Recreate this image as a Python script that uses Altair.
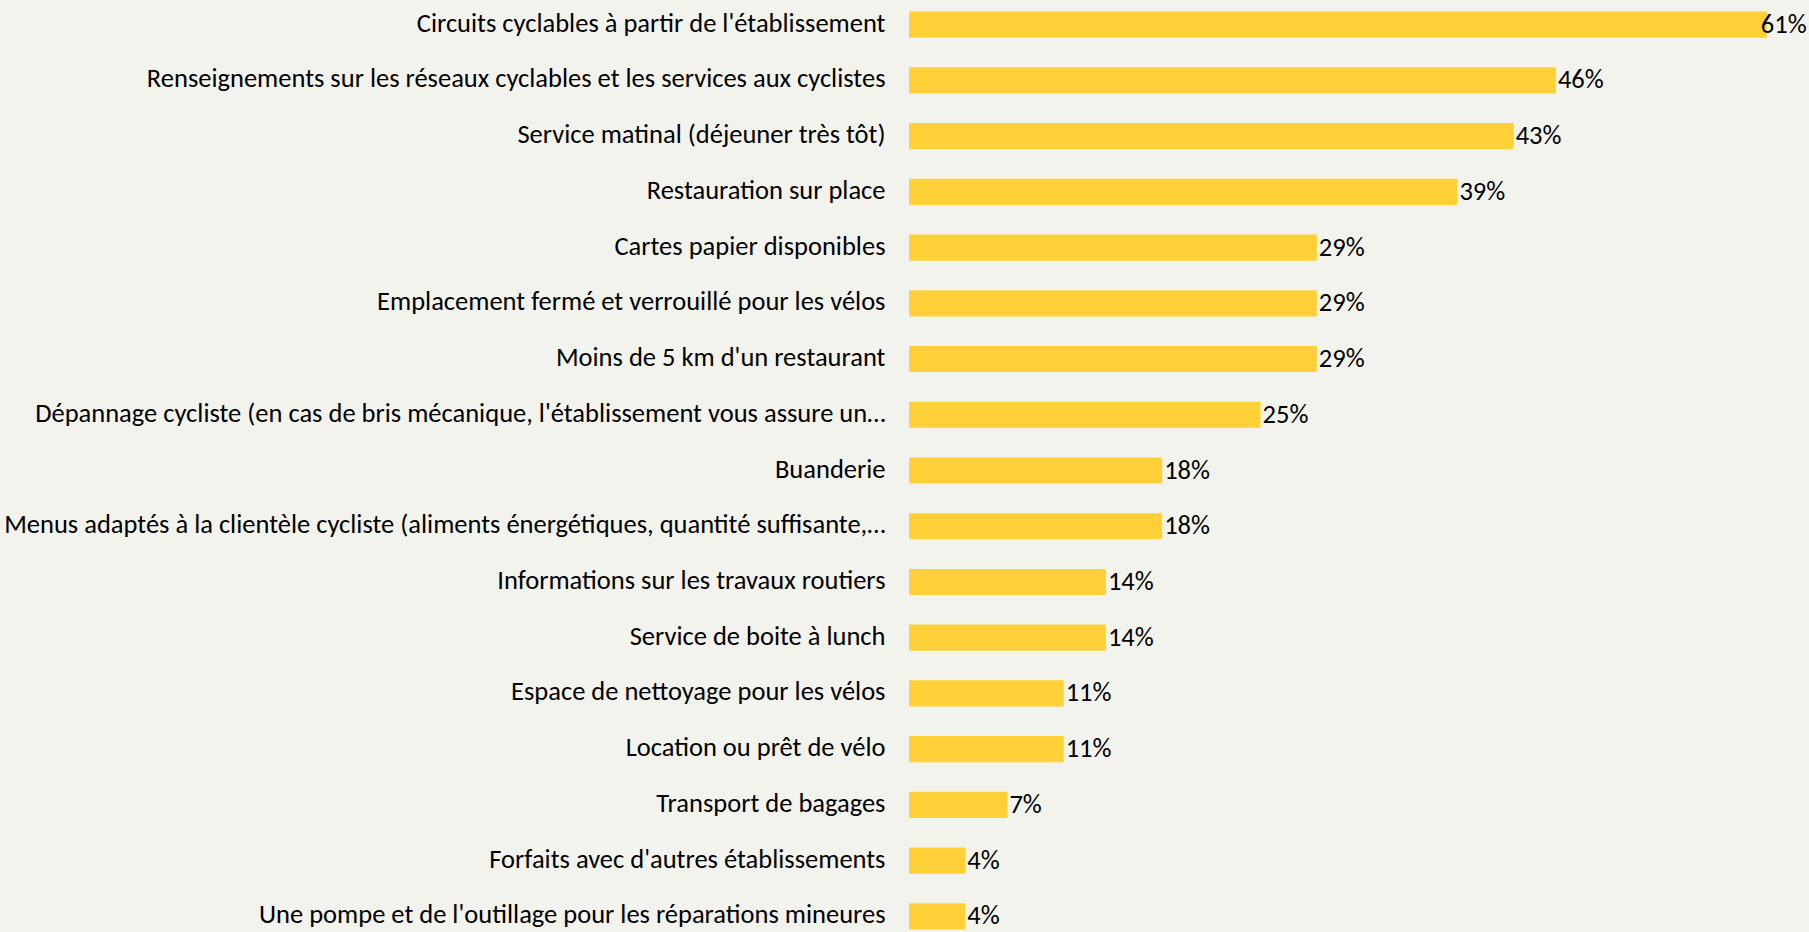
import altair as alt
import pandas as pd

categories = [
    "Circuits cyclables à partir de l'établissement",
    "Renseignements sur les réseaux cyclables et les services aux cyclistes",
    "Service matinal (déjeuner très tôt)",
    "Restauration sur place",
    "Cartes papier disponibles",
    "Emplacement fermé et verrouillé pour les vélos",
    "Moins de 5 km d'un restaurant",
    "Dépannage cycliste (en cas de bris mécanique, l'établissement vous assure un…",
    "Buanderie",
    "Menus adaptés à la clientèle cycliste (aliments énergétiques, quantité suffisante,…",
    "Informations sur les travaux routiers",
    "Service de boite à lunch",
    "Espace de nettoyage pour les vélos",
    "Location ou prêt de vélo",
    "Transport de bagages",
    "Forfaits avec d'autres établissements",
    "Une pompe et de l'outillage pour les réparations mineures",
]
values = [61, 46, 43, 39, 29, 29, 29, 25, 18, 18, 14, 14, 11, 11, 7, 4, 4]

df = pd.DataFrame({"item": categories, "pct": values})
df["label"] = df["pct"].astype(str) + "%"
top_value = max(values)

FONT = "Carlito, Calibri, Lato, sans-serif"
SIZE = 26.5
BAR = "#FFD038"
BG = "#F3F3EE"

y_enc = alt.Y(
    "item:N",
    sort=categories,
    title=None,
    scale=alt.Scale(range=[11.5, 929.5], paddingInner=0.53, paddingOuter=0),
    axis=alt.Axis(
        labelFont=FONT,
        labelFontSize=SIZE,
        labelColor="#000000",
        labelPadding=24,
        labelLimit=1000,
        labelOffset=-1,
        ticks=False,
        domain=False,
        grid=False,
    ),
)
x_enc = alt.X("pct:Q", scale=alt.Scale(domain=[0, 64]), axis=None)

bars = alt.Chart(df).mark_bar(color=BAR).encode(x=x_enc, y=y_enc)

# value labels just past the bar end; the longest bar's label tucks in
# over the bar so it stays inside the canvas
labels = (
    alt.Chart(df)
    .transform_filter(alt.datum.pct < top_value)
    .mark_text(align="left", baseline="middle", dx=2, font=FONT,
               fontSize=SIZE, color="#000000")
    .encode(x=x_enc, y=y_enc, text="label:N")
)
top_label = (
    alt.Chart(df)
    .transform_filter(alt.datum.pct == top_value)
    .mark_text(align="left", baseline="middle", dx=-6, font=FONT,
               fontSize=SIZE, color="#000000")
    .encode(x=x_enc, y=y_enc, text="label:N")
)

chart = (
    alt.layer(bars, labels, top_label)
    .properties(
        width=900,
        height=932,
        background=BG,
        autosize=alt.AutoSizeParams(type="none"),
        padding={"left": 909, "top": 0, "right": 0, "bottom": 0},
    )
    .configure_view(stroke=None)
)

chart.save("out.html", embed_options={"renderer": "svg", "actions": False})
